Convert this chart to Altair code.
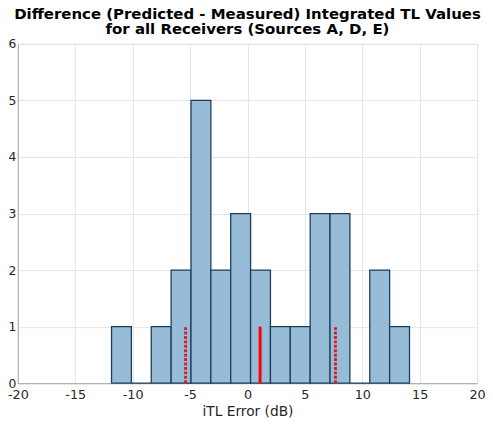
import altair as alt
import pandas as pd

bin_edges = [-11.84, -10.11, -8.38, -6.65, -4.92, -3.19, -1.46, 0.27,
             2.0, 3.73, 5.46, 7.19, 8.92, 10.65, 12.38, 14.11]
counts = [1, 0, 1, 2, 5, 2, 3, 2, 1, 1, 3, 3, 0, 2, 1]

mean_val = 1.1
band_vals = [-5.39, 7.66]
marker_height = 1

x_ticks = [-20, -15, -10, -5, 0, 5, 10, 15, 20]
y_ticks = [0, 1, 2, 3, 4, 5, 6]

bars_df = pd.DataFrame({
    "start": bin_edges[:-1],
    "end": bin_edges[1:],
    "count": counts,
})
mean_df = pd.DataFrame({"v": [mean_val], "y0": [0], "y1": [marker_height]})
band_df = pd.DataFrame({"v": band_vals, "y0": [0, 0], "y1": [marker_height] * 2})

FONT = "DejaVu Sans"

x_scale = alt.Scale(domain=[-20, 20], nice=False, zero=False)
y_scale = alt.Scale(domain=[0, 6], nice=False)

x_axis = alt.Axis(values=x_ticks, title="iTL Error (dB)", grid=True, gridColor="#e3e3e3",
                  tickSize=0, labelFlush=False, labelPadding=6, labelFontSize=13,
                  labelExpr="toString(datum.value)",
                  labelFont=FONT, labelColor="#262626", titleFont=FONT, titleFontSize=14,
                  titleFontWeight="normal", titleColor="#262626", titlePadding=3,
                  domainColor="#a6a6a6")
y_axis = alt.Axis(values=y_ticks, title=None, grid=True, gridColor="#e3e3e3",
                  tickSize=0, labelPadding=2, labelFontSize=12.5, labelFont=FONT,
                  labelExpr="toString(datum.value)",
                  labelColor="#262626", domainColor="#a6a6a6")

bars = alt.Chart(bars_df).mark_rect(
    fill="#97bcd7", stroke="#1e3c5a", strokeWidth=1.3
).encode(
    x=alt.X("start:Q", scale=x_scale, axis=x_axis),
    x2="end:Q",
    y=alt.Y("count:Q", scale=y_scale, axis=y_axis),
    y2=alt.datum(0),
)

mean_rule = alt.Chart(mean_df).mark_rule(color="#ff0000", strokeWidth=3).encode(
    x="v:Q", y="y0:Q", y2="y1:Q"
)
band_rules = alt.Chart(band_df).mark_rule(
    color="#dd1c2b", strokeWidth=3, strokeDash=[3, 1.5]
).encode(x="v:Q", y="y0:Q", y2="y1:Q")

chart = alt.layer(bars, mean_rule, band_rules).properties(
    width=467,
    height=345,
    title=alt.TitleParams(
        text=["Difference (Predicted - Measured) Integrated TL Values",
              "for all Receivers (Sources A, D, E)"],
        font=FONT, fontSize=15.2, fontWeight="bold", color="#000000",
        anchor="middle", offset=1, lineHeight=15.5,
    ),
    autosize=alt.AutoSizeParams(type="none"),
    padding={"left": 10, "top": 33, "right": 8, "bottom": 38},
).configure_view(stroke="#a6a6a6", strokeWidth=1).configure(background="white")

chart.save("out.html", embed_options={"renderer": "svg", "actions": False})
